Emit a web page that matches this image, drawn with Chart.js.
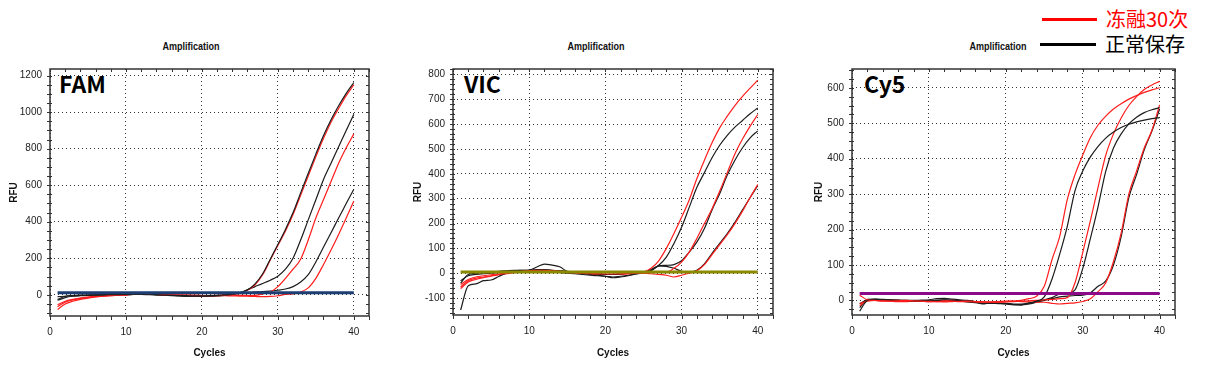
<!DOCTYPE html>
<html><head><meta charset="utf-8">
<script src="https://cdn.jsdelivr.net/npm/chart.js@4.4.0/dist/chart.umd.min.js"></script>
<style>
body{margin:0;background:#fff;width:1206px;height:370px;overflow:hidden;position:relative}
canvas{position:absolute}
.ttl{position:absolute;top:40px;height:12px;line-height:12px;font:bold 11px "Liberation Sans",Arial,sans-serif;transform:translateX(-50%) scaleX(0.82);color:#111;white-space:nowrap}
.ch{position:absolute;top:70px;line-height:26px;font-family:"Noto Sans CJK SC","Noto Sans",sans-serif;font-weight:700;font-size:23px;color:#000}
.lg{position:absolute;font-family:"Noto Sans CJK SC",sans-serif;font-size:20px;line-height:20px;white-space:nowrap}
.ll{position:absolute;height:3px}
</style>
</head><body>
<div class="ttl" style="left:191px">Amplification</div>
<div class="ttl" style="left:596px">Amplification</div>
<div class="ttl" style="left:998px">Amplification</div>
<div class="ch" style="left:59px">FAM</div>
<div class="ch" style="left:464px">VIC</div>
<div class="ch" style="left:864px">Cy5</div>
<div class="ll" style="left:1042px;top:18px;width:55px;background:#ff0000"></div>
<div class="lg" style="left:1106px;top:9px;color:#ff0000">冻融30次</div>
<div class="ll" style="left:1040px;top:43px;width:56px;background:#000"></div>
<div class="lg" style="left:1105px;top:34px;color:#000">正常保存</div>
<canvas id="c1" width="385" height="315" style="left:0px;top:55px"></canvas>
<canvas id="c2" width="390" height="315" style="left:400px;top:55px"></canvas>
<canvas id="c3" width="395" height="315" style="left:800px;top:55px"></canvas>
<script>
const cycles = [1,2,3,4,5,6,7,8,9,10,11,12,13,14,15,16,17,18,19,20,21,22,23,24,25,26,27,28,29,30,31,32,33,34,35,36,37,38,39,40];
const xTicks = [0,10,20,30,40];

// FAM
const FAM_B1 = [-25,-8,-4,-2,-1,0,0,1,1,2, 3,4,3,1,-1,-3,-4,-5,-6,-6, -5,-3,0,4,12,27,60,115,195,275, 358,450,558,665,770,870,958,1035,1103,1162];
const FAM_R1 = [-80,-50,-35,-25,-18,-12,-8,-5,-3,-1, 5,8,5,2,0,-1,-2,-3,-4,-5, -5,-4,-2,2,10,25,55,110,190,270, 350,440,545,650,755,855,945,1020,1090,1150];
const FAM_B2 = [-10,-8,-5,-3,-2,-1,0,0,1,1, 2,2,1,0,-2,-3,-5,-7,-8,-9, -8,-6,-3,2,10,28,45,62,80,102, 140,200,300,410,520,630,720,810,900,988];
const FAM_R2 = [-65,-40,-28,-20,-14,-10,-6,-3,-1,0, 8,10,6,3,1,0,-1,-2,-3,-4, -4,-3,-2,-2,-3,-4,-3,5,15,45, 90,140,195,300,420,520,620,720,805,881];
const FAM_B3 = [-30,-15,-8,-5,-3,-2,-1,0,0,1, 2,3,2,0,-2,-4,-6,-7,-8,-8, -7,-5,-2,5,8,12,15,18,20,25, 32,45,70,110,180,260,340,420,500,578];
const FAM_R3 = [-55,-35,-25,-18,-13,-9,-6,-4,-2,-1, 4,6,4,2,0,-1,-2,-3,-3,-4, -4,-4,-5,-6,-7,-8,-9,-10,-9,-5, 2,5,15,38,90,165,245,330,420,513];
const FAM_T = 11;
const FAM_YTICKS = [0,200,400,600,800,1000,1200];

// VIC
const VIC_RA = [-55,-30,-20,-15,-10,-5,0,5,8,10, 12,12,10,8,5,3,2,0,-2,-3, -3,-2,0,2,5,20,50,100,160,225, 295,380,455,525,585,632,675,712,745,777];
const VIC_BA = [-40,-5,0,2,5,8,10,12,12,12, 15,15,12,10,8,5,2,0,-3,-5, -5,-3,0,3,5,12,32,65,120,185, 265,345,405,465,515,555,588,615,642,665];
const VIC_RB = [-45,-25,-15,-10,-6,-3,0,3,5,6, 8,10,12,10,5,2,0,-2,-4,-5, -5,-4,-2,0,2,4,5,5,20,45, 85,140,200,260,330,405,480,540,592,639];
const VIC_BB = [-148,-50,-43,-30,-27,-13,0,10,12,13, 25,37,33,26,7,2,-2,-5,-8,-12, -18,-15,-10,-3,5,15,30,32,35,50, 85,125,180,255,320,395,455,505,545,573];
const VIC_RC = [-62,-35,-25,-18,-12,-6,-2,2,4,5, 6,6,5,4,3,2,0,-2,-3,-4, -4,-3,-2,-1,0,-2,-5,-8,-15,-8, 0,10,35,75,115,155,200,250,305,357];
const VIC_BC = [-30,-10,-5,-2,0,3,5,8,10,10, 10,8,5,3,0,-2,-5,-8,-10,-12, -15,-12,-8,-3,2,10,30,28,20,8, 5,12,38,80,120,160,205,255,305,352];
const VIC_T = 5;
const VIC_YTICKS = [-100,0,100,200,300,400,500,600,700,800];

// Cy5
const CY_RA = [15,2,0,-2,-2,-1,0,-1,-2,-3, -3,-2,-2,-3,-3,-4,-5,-5,-4,-3, -2,0,5,12,40,115,180,285,355,410, 460,495,520,540,555,568,578,587,594,600];
const CY_BA = [-30,0,3,2,1,0,0,-1,-1,-2, 0,2,1,-1,-3,-5,-8,-8,-9,-10, -12,-12,-8,-2,10,60,130,210,310,365, 405,435,458,475,488,497,504,509,513,516];
const CY_RB = [-15,0,2,1,0,0,-1,-2,-2,-3, -2,-1,0,-1,-2,-3,-4,-5,-5,-4, -3,-2,-1,0,2,3,5,8,50,135, 225,320,410,470,515,550,575,595,608,618];
const CY_BB = [-20,3,4,3,2,1,0,0,1,2, 5,6,4,2,0,-3,-10,-6,-7,-8, -10,-10,-7,-3,2,8,18,20,30,90, 175,265,365,430,470,498,517,530,538,544];
const CY_RC = [-8,-2,0,-1,-2,-3,-3,-2,-2,-2, -3,-4,-3,-2,-2,-3,-4,-4,-3,-2, -2,-3,-4,-5,-5,-8,-10,-8,-7,-3, 5,25,50,110,190,300,365,430,480,552];
const CY_BC = [-10,2,3,2,1,0,-1,-2,-2,-1, 0,1,0,-2,-4,-6,-8,-7,-8,-9, -12,-13,-10,-5,0,5,10,12,14,15, 22,40,55,100,180,290,355,425,478,540];
const CY_T = 20;
const CY_YTICKS = [0,100,200,300,400,500,600];

const RED = '#ff1c1c', BLACK = '#1c1c1c';
const pts = vals => vals.map((v,i)=>({x:cycles[i], y:v}));

const decor = {
  id:'decor',
  afterDraw(chart, args, o){
    const {ctx, chartArea:a, scales:{x,y}} = chart;
    ctx.save();
    ctx.strokeStyle='#333'; ctx.lineWidth=1;
    ctx.beginPath();
    for (let v=0; v<=x.max; v+=o.xStep){
      const px=Math.round(x.getPixelForValue(v))+0.5;
      ctx.moveTo(px,a.bottom); ctx.lineTo(px,a.bottom+4);
      ctx.moveTo(px,a.top); ctx.lineTo(px,a.top+3);
    }
    for (let v=Math.ceil(y.min/o.yStep)*o.yStep; v<=y.max; v+=o.yStep){
      const py=Math.round(y.getPixelForValue(v))+0.5;
      ctx.moveTo(a.left-3,py); ctx.lineTo(a.left+2,py);
      ctx.moveTo(a.right-3,py); ctx.lineTo(a.right,py);
    }
    ctx.stroke();
    ctx.lineWidth=1.5;
    ctx.strokeRect(a.left,a.top,a.right-a.left,a.bottom-a.top);
    ctx.restore();
  }
};

function make(id, p){
  const ds = [{data:[{x:1,y:p.thr},{x:40,y:p.thr}], borderColor:p.thrColor, borderWidth:3, pointRadius:0, tension:0}];
  p.curves.forEach(c=>ds.push({data:pts(c[0]), borderColor:c[1], borderWidth:1.2, pointRadius:0, cubicInterpolationMode:'monotone'}));
  const tickFont = {family:'"Liberation Sans",Arial,sans-serif', size:10};
  const titleFont = {family:'"Liberation Sans",Arial,sans-serif', size:10, weight:'bold'};
  new Chart(document.getElementById(id), {
    type:'line',
    data:{datasets:ds},
    plugins:[decor],
    options:{
      responsive:false, animation:false, events:[],
      layout:{padding:{top:p.padTop, right:p.padRight, left:0, bottom:0}},
      plugins:{legend:{display:false}, tooltip:{enabled:false}, decor:{xStep:2, yStep:p.yMinor}},
      scales:{
        x:{type:'linear', min:0, max:42,
           afterBuildTicks:s=>{s.ticks = xTicks.map(v=>({value:v}));},
           afterFit:s=>{s.height = p.xH;},
           grid:{color:'#333', lineWidth:1, drawTicks:false},
           border:{display:false, dash:[1,3]},
           ticks:{padding:10, color:'#222', font:tickFont, maxRotation:0, callback:v=>String(v)},
           title:{display:true, text:'Cycles', color:'#111', font:titleFont, padding:{top:0,bottom:11}}},
        y:{type:'linear', min:p.ymin, max:p.ymax,
           afterBuildTicks:s=>{s.ticks = p.yTicks.map(v=>({value:v}));},
           afterFit:s=>{s.width = p.yW;},
           grid:{color:'#333', lineWidth:1, drawTicks:false},
           border:{display:false, dash:[1,3]},
           ticks:{padding:8, color:'#222', font:tickFont, callback:v=>String(v)},
           title:{display:true, text:'RFU', color:'#111', font:titleFont, padding:{top:p.rfuPad,bottom:0}}}
      }
    }
  });
}

make('c1', {thr:FAM_T, thrColor:'#1d3e72', ymin:-116, ymax:1236, yTicks:FAM_YTICKS, yMinor:50,
  yW:50, xH:54, padTop:8, padRight:16, rfuPad:8,
  curves:[[FAM_B1,BLACK],[FAM_R1,RED],[FAM_B2,BLACK],[FAM_R2,RED],[FAM_B3,BLACK],[FAM_R3,RED]]});
make('c2', {thr:VIC_T, thrColor:'#8a8a00', ymin:-168, ymax:822, yTicks:VIC_YTICKS, yMinor:20,
  yW:53, xH:55, padTop:8, padRight:17, rfuPad:12,
  curves:[[VIC_RA,RED],[VIC_BA,BLACK],[VIC_RB,RED],[VIC_BB,BLACK],[VIC_RC,RED],[VIC_BC,BLACK]]});
make('c3', {thr:CY_T, thrColor:'#8a0a8a', ymin:-41, ymax:653, yTicks:CY_YTICKS, yMinor:25,
  yW:52, xH:55, padTop:9, padRight:20, rfuPad:13,
  curves:[[CY_RA,RED],[CY_BA,BLACK],[CY_RB,RED],[CY_BB,BLACK],[CY_RC,RED],[CY_BC,BLACK]]});
</script>
</body></html>
